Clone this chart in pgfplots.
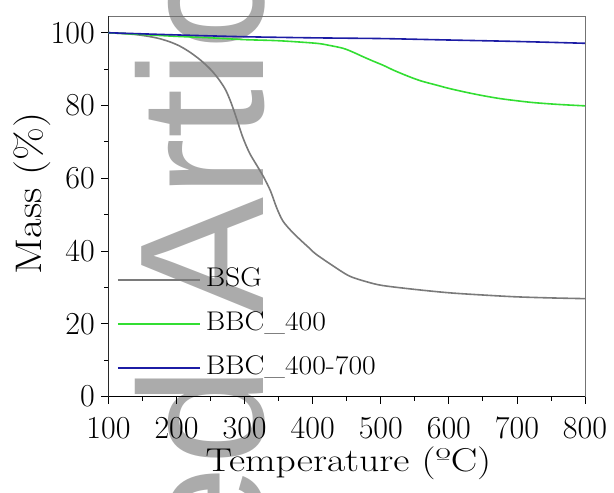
\documentclass[border=0pt]{standalone}
\usepackage{fontspec}
\newfontfamily\wmfont{Liberation Sans}
\usepackage{pgfplots}
\pgfplotsset{compat=1.18}
\definecolor{bsg}{RGB}{122,122,122}
\definecolor{bbcg}{RGB}{50,222,50}
\definecolor{bbcb}{RGB}{28,28,165}
\begin{document}
\begin{tikzpicture}
% watermark (behind the chart)
\node[rotate=90, anchor=base west, inner sep=0pt, text=black!33, font=\wmfont\fontsize{177}{177}\selectfont] at (154.5pt,80.5pt) {Article};
\node[rotate=90, anchor=base east, inner sep=0pt, text=black!33, font=\wmfont\fontsize{177}{177}\selectfont] at (154.5pt,29.5pt) {Accepted};
\begin{axis}[
  at={(0pt,0pt)}, anchor=south west,
  scale only axis, width=476.5pt, height=380.5pt,
  xmin=100, xmax=800, ymin=0, ymax=104.6,
  xtick={100,200,...,800}, ytick={0,20,...,100},
  minor x tick num=1, minor y tick num=1,
  tick align=outside, xtick pos=bottom, ytick pos=left,
  major tick length=7pt, minor tick length=4pt,
  tick style={black, line width=0.8pt},
  axis line style={black!55, line width=0.8pt},
  /pgf/number format/assume math mode=true,
  ticklabel style={font=\fontsize{32}{38}\selectfont, inner sep=0pt},
  xticklabel style={yshift=-13.5pt},
  yticklabel style={xshift=-6.5pt},
  xlabel={\scalebox{1.2}[1]{Temperature (ºC)}},
  ylabel={\scalebox{1.15}[1]{Mass (\%)}},
  xlabel style={at={(axis description cs:0.5,0)}, anchor=base, yshift=-75pt, xshift=1.7pt, inner sep=0pt, font=\fontsize{33}{40}\selectfont},
  ylabel style={at={(axis description cs:0,0.5335)}, anchor=center, yshift=76pt, inner sep=0pt, font=\fontsize{37}{44}\selectfont},
  legend style={draw=none, fill=none, font=\fontsize{27}{32}\selectfont,
    at={(axis description cs:0.0115,0.0368)}, anchor=south west,
    row sep=19pt, column sep=5pt,
    nodes={inner sep=0pt, text height=19pt, text depth=6pt}},
  legend cell align=left,
  legend image code/.code={\draw[#1] (0pt,0pt) -- (82pt,0pt);},
  every axis plot/.append style={line width=1.6pt, no markers},
]
\draw[black, line width=0.9pt] (rel axis cs:0,1) -- (rel axis cs:0,0) -- (rel axis cs:1,0);
\addplot[bsg, smooth] coordinates {
(100,100) (140,99.5) (170,98.6) (190,97.5) (205,96.3) (220,94.6) (235,92.5) (250,89.9)
(262,87.2) (272,84.3) (280,80.8) (288,76.5) (297,71.4) (307,67.0) (318,63.5) (328,60.3)
(338,56.5) (347,51.9) (356,48.3) (368,45.6) (381,43.2) (395,40.8) (405,39.1)
(430,35.9) (454,33.1) (480,31.5) (503,30.5) (552,29.4) (601,28.5) (650,27.9) (699,27.4)
(750,27.1) (800,26.9)};
\addlegendentry{\scalebox{1.1}[1]{BSG}}
\addplot[bbcg, smooth] coordinates {
(100,100) (150,99.5) (200,99.0) (250,98.6) (300,98.1) (350,97.8) (405,97.1) (425,96.5)
(445,95.7) (460,94.6) (474,93.4) (490,92.1) (503,91.1) (520,89.6) (542,87.9) (560,86.7)
(582,85.6) (600,84.7) (626,83.6) (650,82.7) (675,81.9) (700,81.3) (724,80.8) (760,80.3)
(800,79.9)};
\addlegendentry{\scalebox{1.1}[1]{BBC\_400}}
\addplot[bbcb, smooth] coordinates {
(100,100) (200,99.4) (300,98.9) (400,98.6) (500,98.4) (552,98.2) (600,98.0) (700,97.6)
(800,97.1)};
\addlegendentry{\scalebox{1.1}[1]{BBC\_400-700}}
\end{axis}
\pgfresetboundingbox
\path[use as bounding box] (-108.5pt,-96.5pt) rectangle (505.5pt,396.5pt);
\end{tikzpicture}
\end{document}
